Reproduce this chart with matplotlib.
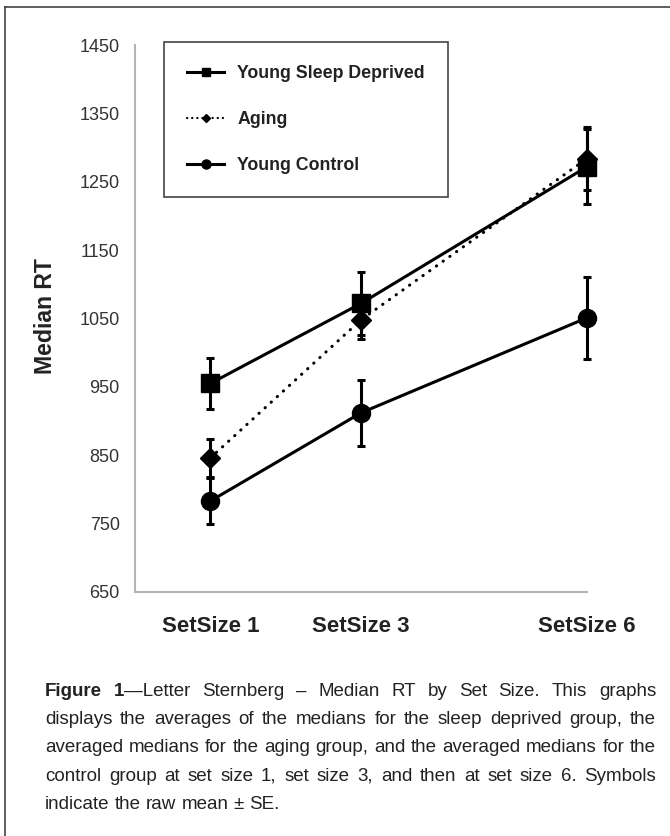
import matplotlib
matplotlib.use('Agg')
import matplotlib.pyplot as plt
from matplotlib.lines import Line2D

FONT = ['Liberation Sans', 'DejaVu Sans']
plt.rcParams['font.family'] = FONT

W, H = 670, 836

set_sizes = [1, 3, 6]
set_labels = ['SetSize 1', 'SetSize 3', 'SetSize 6']

sleep_deprived = [955, 1072, 1272]
sleep_deprived_se = [37, 46, 55]
aging = [846, 1048, 1284]
aging_se = [28, 28, 46]
control = [783, 912, 1051]
control_se = [33, 48, 60]

y_ticks = [650, 750, 850, 950, 1050, 1150, 1250, 1350, 1450]

caption_lines = [
    [[('Figure', 'bold')], [('1', 'bold'), ('\u2014Letter', 'normal')], 'Sternberg', '\u2013',
     'Median', 'RT', 'by', 'Set', 'Size.', 'This', 'graphs'],
    'displays the averages of the medians for the sleep deprived group, the'.split(),
    'averaged medians for the aging group, and the averaged medians for the'.split(),
    'control group at set size 1, set size 3, and then at set size 6. Symbols'.split(),
    'indicate the raw mean \u00b1 SE.'.split(),
]


def px(x, y):
    return x / W, 1 - y / H


fig = plt.figure(figsize=(W / 100, H / 100), dpi=100)

# outer frame, only top and left edges show
fig.add_artist(Line2D([5 / W, 1.0], [1 - 7 / H, 1 - 7 / H], color='#333333', lw=1.1))
fig.add_artist(Line2D([5 / W, 5 / W], [0.0, 1 - 7 / H], color='#333333', lw=1.1))

l, b = px(135, 592)
r, t = px(587, 45)
ax = fig.add_axes([l, b, r - l, t - b])

line_kw = dict(color='black', lw=2.2, elinewidth=2.2, capsize=3, capthick=2.2)
groups = [
    ax.errorbar(set_sizes, control, yerr=control_se, marker='o', ms=13, **line_kw),
    ax.errorbar(set_sizes, aging, yerr=aging_se, marker='D', ms=10.5,
                ls=(0, (0.1, 2.6)), dash_capstyle='round', **line_kw),
    ax.errorbar(set_sizes, sleep_deprived, yerr=sleep_deprived_se, marker='s', ms=13, **line_kw),
]
for g in groups:
    for art in g.get_children():
        art.set_clip_on(False)

ax.set_xlim(0, 6)
ax.set_ylim(650, 1450)
ax.set_yticks(y_ticks)
ax.set_xticks(set_sizes)
ax.set_xticklabels(set_labels, fontsize=16, fontweight='bold', color='#222222')
ax.tick_params(axis='x', length=0, pad=17)
ax.tick_params(axis='y', length=0, pad=11, labelsize=13, labelcolor='#333333')
for side in ['top', 'right']:
    ax.spines[side].set_visible(False)
for side in ['left', 'bottom']:
    ax.spines[side].set_color('#b5b5b5')
    ax.spines[side].set_linewidth(1.5)

fig.text(45 / W, 1 - 316 / H, 'Median RT', rotation=90, ha='center', va='center',
         fontsize=16.6, fontweight='bold', color='#222222')

handles = [
    Line2D([], [], color='black', lw=2.2, marker='s', ms=6),
    Line2D([], [], color='black', lw=1.6, ls=(0, (0.1, 2.2)), dash_capstyle='round',
           marker='D', ms=4.5),
    Line2D([], [], color='black', lw=2.2, marker='o', ms=6.5),
]
leg = ax.legend(handles, ['Young Sleep Deprived', 'Aging', 'Young Control'],
                loc='upper left', bbox_to_anchor=px(164, 42), bbox_transform=fig.transFigure,
                borderaxespad=0, fancybox=False, framealpha=1, edgecolor='#444444',
                prop={'family': FONT, 'weight': 'bold', 'size': 12.8},
                handlelength=2.08, handletextpad=0.73, labelspacing=1.63, borderpad=1.3)
leg.get_frame().set_linewidth(1.2)
for txt in leg.get_texts():
    txt.set_color('#222222')

# justified caption, word by word
renderer = fig.canvas.get_renderer()
cap_size = 13.5
x_left, x_right = 45, 656
base0, step = 696, 28.25


def make_word(word):
    if isinstance(word, str):
        return [(word, 'normal')]
    return word


def measure(segments):
    widths = []
    for s, w in segments:
        tt = fig.text(0, 0, s, fontsize=cap_size, fontweight=w)
        widths.append(tt.get_window_extent(renderer).width)
        tt.remove()
    return widths


tmp = fig.text(0, 0, 'a a', fontsize=cap_size)
tmp2 = fig.text(0, 0, 'aa', fontsize=cap_size)
space_w = tmp.get_window_extent(renderer).width - tmp2.get_window_extent(renderer).width
tmp.remove()
tmp2.remove()

for i, line in enumerate(caption_lines):
    words = [make_word(w) for w in line]
    seg_widths = [measure(w) for w in words]
    word_widths = [sum(sw) for sw in seg_widths]
    last = i == len(caption_lines) - 1
    if last:
        gap = space_w
    else:
        gap = (x_right - x_left - sum(word_widths)) / (len(words) - 1)
    x = x_left
    y = base0 + i * step
    for segs, sws, ww in zip(words, seg_widths, word_widths):
        sx = x
        for (s, w), sw in zip(segs, sws):
            fig.text(sx / W, 1 - y / H, s, fontsize=cap_size, fontweight=w,
                     va='baseline', ha='left', color='#222222')
            sx += sw
        x += ww + gap

fig.savefig('out.png', dpi=100)
